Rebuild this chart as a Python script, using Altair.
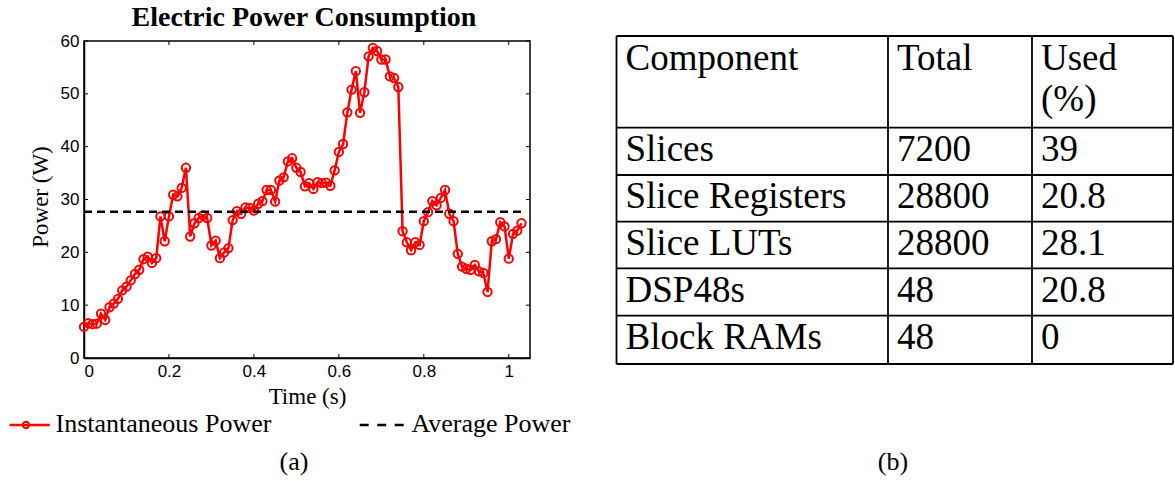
import altair as alt
import pandas as pd

# ---------------- data ----------------
TIME = [0.00, 0.01, 0.02, 0.03, 0.04, 0.05, 0.06, 0.07, 0.08, 0.09,
        0.10, 0.11, 0.12, 0.13, 0.14, 0.15, 0.16, 0.17, 0.18, 0.19,
        0.20, 0.21, 0.22, 0.23, 0.24, 0.25, 0.26, 0.27, 0.28, 0.29,
        0.30, 0.31, 0.32, 0.33, 0.34, 0.35, 0.36, 0.37, 0.38, 0.39,
        0.40, 0.41, 0.42, 0.43, 0.44, 0.45, 0.46, 0.47, 0.48, 0.49,
        0.50, 0.51, 0.52, 0.53, 0.54, 0.55, 0.56, 0.57, 0.58, 0.59,
        0.60, 0.61, 0.62, 0.63, 0.64, 0.65, 0.66, 0.67, 0.68, 0.69,
        0.70, 0.71, 0.72, 0.73, 0.74, 0.75, 0.76, 0.77, 0.78, 0.79,
        0.80, 0.81, 0.82, 0.83, 0.84, 0.85, 0.86, 0.87, 0.88, 0.89,
        0.90, 0.91, 0.92, 0.93, 0.94, 0.95, 0.96, 0.97, 0.98, 0.99,
        1.00, 1.01, 1.02, 1.03]
POWER = [5.9, 6.6, 6.4, 6.5, 8.4, 7.2, 9.6, 10.3, 11.2, 12.8,
         13.5, 14.7, 15.9, 16.7, 18.7, 19.2, 18.0, 18.9, 26.8, 22.1,
         26.8, 30.9, 30.6, 32.2, 36.0, 23.0, 25.5, 26.5, 27.0, 26.5,
         21.3, 22.2, 18.9, 20.0, 20.8, 26.1, 27.8, 27.3, 28.5, 28.4,
         27.9, 29.2, 29.7, 31.8, 31.8, 29.6, 33.6, 34.2, 37.2, 37.8,
         36.0, 35.2, 32.5, 33.1, 32.0, 33.3, 33.1, 33.2, 32.6, 35.5,
         39.0, 40.5, 46.5, 50.8, 54.3, 46.4, 50.3, 57.1, 58.7, 58.1,
         56.5, 56.5, 53.3, 53.0, 51.3, 24.0, 21.9, 20.4, 21.9, 21.4,
         25.9, 27.6, 29.7, 28.9, 30.3, 31.8, 27.3, 25.9, 19.7, 17.3,
         16.9, 16.7, 17.6, 16.4, 16.1, 12.5, 22.1, 22.5, 25.7, 24.9,
         18.8, 23.5, 24.1, 25.5]
AVERAGE_POWER = 27.7

X_TICKS = [0, 0.2, 0.4, 0.6, 0.8, 1.0]
Y_TICKS = [0, 10, 20, 30, 40, 50, 60]

TABLE_HEADER = ["Component", "Total", "Used"]
TABLE_HEADER_2 = ["", "", "(%)"]
COMPONENTS = ["Slices", "Slice Registers", "Slice LUTs", "DSP48s", "Block RAMs"]
TOTALS = ["7200", "28800", "28800", "48", "48"]
USED = ["39", "20.8", "28.1", "20.8", "0"]

LEGEND_LABELS = ["Instantaneous Power", "Average Power"]
CAPTIONS = ["(a)", "(b)"]
TITLE = ["Electric Power Consumption"]

# ---------------- layout (pixels, relative to plot origin) ----------------
W, H = 446, 317
LEFT, TOP = 84, 41
PAGE_W, PAGE_H = 1175, 481
COL_EDGES = [532.5, 804, 948, 1089]
ROW_EDGES = [-5, 86.7, 134, 180.7, 227.3, 274.7, 323]
CELL_PAD = 9
SERIF = "Liberation Serif"
SANS = "Liberation Sans"
RED = "#ff0000"

# ---------------- plot ----------------
df = pd.DataFrame({"t": TIME, "p": POWER})
xs = alt.Scale(domain=[0, 1.05], nice=False, zero=False)
ys = alt.Scale(domain=[0, 60], nice=False)

line = alt.Chart(df).mark_line(color=RED, strokeWidth=2.5).encode(
    x=alt.X("t:Q", scale=xs,
            axis=alt.Axis(values=X_TICKS, format="~g", title="Time (s)",
                          labelPadding=5, titleX=W / 2, titleY=45,
                          titleBaseline="alphabetic")),
    y=alt.Y("p:Q", scale=ys,
            axis=alt.Axis(values=Y_TICKS, title="Power (W)", labelPadding=5,
                          titleX=-44, titleY=H / 2 - 3, titleBaseline="middle",
                          titleAngle=270)),
)
pts = alt.Chart(df).mark_point(shape="circle", filled=False, color=RED, size=70,
                               strokeWidth=2, opacity=1).encode(x="t:Q", y="p:Q")

avg_df = pd.DataFrame({"t": [TIME[0], TIME[-1]], "p": [AVERAGE_POWER, AVERAGE_POWER]})
avg = alt.Chart(avg_df).mark_line(color="black", strokeWidth=2.5,
                                  strokeDash=[8, 5]).encode(x="t:Q", y="p:Q")

xt = pd.DataFrame({"t": X_TICKS})
yt = pd.DataFrame({"p": Y_TICKS})
tick_style = dict(color="black", strokeWidth=1)
xt_bot = alt.Chart(xt).mark_rule(**tick_style).encode(x="t:Q", y=alt.value(H), y2=alt.value(H - 4))
xt_top = alt.Chart(xt).mark_rule(**tick_style).encode(x="t:Q", y=alt.value(0), y2=alt.value(4))
yt_l = alt.Chart(yt).mark_rule(**tick_style).encode(y="p:Q", x=alt.value(0), x2=alt.value(4))
yt_r = alt.Chart(yt).mark_rule(**tick_style).encode(y="p:Q", x=alt.value(W), x2=alt.value(W - 4))

# ---------------- title ----------------
title_df = pd.DataFrame({"label": TITLE, "tx": [220], "ty": [-15.3]})
title = alt.Chart(title_df).mark_text(font=SERIF, fontSize=28, fontWeight="bold",
                                      align="center", baseline="alphabetic",
                                      color="black").encode(
    x=alt.X("tx:Q", scale=None), y=alt.Y("ty:Q", scale=None), text="label:N")

# ---------------- legend ----------------
LEG_Y = 384
leg_line = alt.Chart(pd.DataFrame({"k": [0]})).mark_rule(color=RED, strokeWidth=2.5).encode(
    x=alt.value(-74.4), x2=alt.value(-34.2), y=alt.value(LEG_Y))
leg_pt = alt.Chart(pd.DataFrame({"k": [0]})).mark_point(
    shape="circle", filled=False, color=RED, size=40, strokeWidth=2, opacity=1).encode(
    x=alt.value(-58), y=alt.value(LEG_Y))
leg_dash = alt.Chart(pd.DataFrame({"k": [0]})).mark_rule(
    color="black", strokeWidth=2.5, strokeDash=[9, 8.5]).encode(
    x=alt.value(275.7), x2=alt.value(321.7), y=alt.value(LEG_Y))
leg_df = pd.DataFrame({"label": LEGEND_LABELS, "lx": [-28.5, 327.4], "ly": [391.3, 391.3]})
leg_text = alt.Chart(leg_df).mark_text(font=SERIF, fontSize=26, align="left",
                                       baseline="alphabetic", color="black").encode(
    x=alt.X("lx:Q", scale=None), y=alt.Y("ly:Q", scale=None), text="label:N")

# ---------------- captions ----------------
cap_df = pd.DataFrame({"label": CAPTIONS, "cx": [210, 809], "cy": [429, 429]})
caps = alt.Chart(cap_df).mark_text(font=SERIF, fontSize=26, align="center",
                                   baseline="alphabetic", color="black").encode(
    x=alt.X("cx:Q", scale=None), y=alt.Y("cy:Q", scale=None), text="label:N")

# ---------------- table ----------------
cells = []
for c, txt in enumerate(TABLE_HEADER):
    cells.append({"text": txt, "tx": COL_EDGES[c] + CELL_PAD, "ty": ROW_EDGES[0] + 34})
for c, txt in enumerate(TABLE_HEADER_2):
    if txt:
        cells.append({"text": txt, "tx": COL_EDGES[c] + CELL_PAD, "ty": ROW_EDGES[0] + 75})
for r in range(len(COMPONENTS)):
    top = ROW_EDGES[r + 1]
    for c, txt in enumerate([COMPONENTS[r], TOTALS[r], USED[r]]):
        cells.append({"text": txt, "tx": COL_EDGES[c] + CELL_PAD, "ty": top + 33.3})
cell_df = pd.DataFrame(cells)
table_text = alt.Chart(cell_df).mark_text(font=SERIF, fontSize=37, align="left",
                                          baseline="alphabetic", color="black").encode(
    x=alt.X("tx:Q", scale=None), y=alt.Y("ty:Q", scale=None), text="text:N")

hl = pd.DataFrame({"x1": [COL_EDGES[0]] * len(ROW_EDGES),
                   "x2": [COL_EDGES[-1]] * len(ROW_EDGES), "y1": ROW_EDGES})
vl = pd.DataFrame({"x1": COL_EDGES, "y1": [ROW_EDGES[0]] * len(COL_EDGES),
                   "y2": [ROW_EDGES[-1]] * len(COL_EDGES)})
h_rules = alt.Chart(hl).mark_rule(color="black", strokeWidth=1.8).encode(
    x=alt.X("x1:Q", scale=None), x2="x2", y=alt.Y("y1:Q", scale=None))
v_rules = alt.Chart(vl).mark_rule(color="black", strokeWidth=1.8).encode(
    x=alt.X("x1:Q", scale=None), y=alt.Y("y1:Q", scale=None), y2="y2")

chart = alt.layer(
    line, pts, avg, xt_bot, xt_top, yt_l, yt_r, title,
    leg_line, leg_pt, leg_dash, leg_text, caps,
    h_rules, v_rules, table_text,
).properties(
    width=W, height=H,
    autosize=alt.AutoSizeParams(type="none"),
    padding={"left": LEFT, "top": TOP, "right": PAGE_W - LEFT - W, "bottom": PAGE_H - TOP - H},
    background="white",
).configure_view(
    stroke="black", strokeWidth=1.5
).configure_axis(
    grid=False, ticks=False, domainColor="black", domainWidth=1.5,
    labelFont=SANS, labelFontSize=17, labelColor="black",
    titleFont=SERIF, titleFontSize=23, titleFontWeight="normal", titleColor="black",
)

chart.save("out.html", embed_options={"renderer": "svg", "actions": False})
